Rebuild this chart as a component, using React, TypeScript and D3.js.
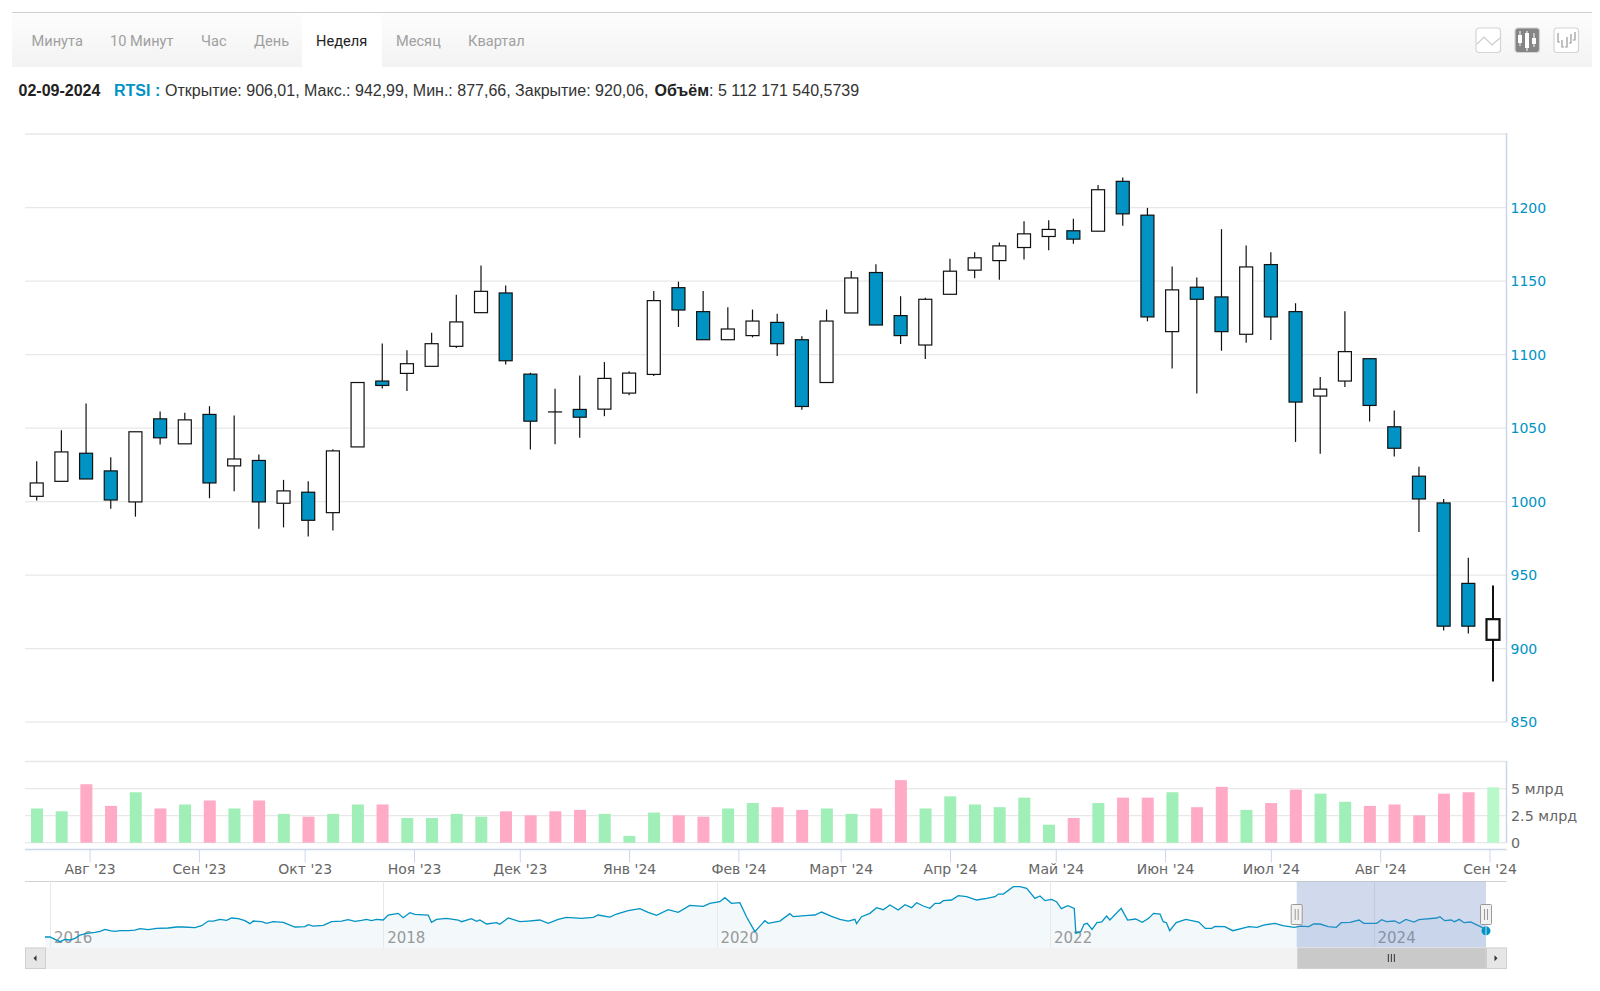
import { useEffect, useRef } from "react";
import * as d3 from "d3";

/* Weekly RTSI candles, 17 Jul 2023 .. 2 Sep 2024 */
const firstWeek = new Date(2023, 6, 17);

const opens = [1003.6, 1013.8, 1032.9, 1020.9, 999.8, 1056.3, 1039.3, 1059.3, 1024.3, 1028, 998.9, 1006.4, 992.5, 1037.2, 1082, 1087.2, 1092, 1105.6, 1128.5, 1141.9, 1086.7, 1061, 1062.7, 1062.9, 1073.8, 1086.5, 1145.5, 1129.2, 1110.1, 1112.9, 1121.9, 1110.1, 1081, 1128.3, 1155.8, 1126.5, 1106.5, 1141, 1157.4, 1163.9, 1172.8, 1180.3, 1184.2, 1183.9, 1217.8, 1194.8, 1115.6, 1145.8, 1139.2, 1113.8, 1161.2, 1129.2, 1071.8, 1082, 1097.2, 1050.9, 1017.3, 999.1, 944.4, 906.01];
const closes = [1012.7, 1033.8, 1015.4, 1001.1, 1047.5, 1043.4, 1055.6, 1012.7, 1029, 999.8, 1007.3, 987.3, 1034.5, 1081, 1079, 1093.8, 1107.4, 1122.2, 1143, 1095.8, 1054.7, 1061, 1057.4, 1083.8, 1087.4, 1136.7, 1130.3, 1110.1, 1117.4, 1122.8, 1107.4, 1064.7, 1122.8, 1152.1, 1120.1, 1112.9, 1137.6, 1156.7, 1165.8, 1173.9, 1182.1, 1185.1, 1178.5, 1212.1, 1195.7, 1125.6, 1144, 1137.6, 1115.6, 1159.6, 1125.6, 1067.7, 1076.5, 1102, 1065.4, 1036.3, 1001.8, 915.3, 915.3, 920.06];
const highs = [1027.4, 1048.6, 1066.8, 1030.2, 1047.5, 1061.3, 1060.4, 1064.9, 1058.6, 1032, 1014.8, 1013.8, 1035.6, 1081, 1107.6, 1103, 1114.9, 1140.6, 1160.5, 1146.9, 1087.6, 1076.7, 1085.8, 1094.9, 1088.6, 1143.3, 1149.6, 1143.3, 1132.2, 1130.6, 1127.8, 1112.4, 1130.6, 1156.9, 1161.4, 1139.6, 1138.7, 1165.1, 1169.6, 1176.2, 1190.7, 1191.4, 1192.3, 1215.3, 1220.5, 1199.8, 1159.9, 1152.4, 1185.3, 1174.2, 1169.6, 1134.9, 1084.7, 1129.4, 1097.2, 1062, 1023.8, 1001.8, 961.9, 942.99];
const lows = [1000.7, 1013.8, 1015.4, 995.2, 989.8, 1038.8, 1039.3, 1002.3, 1007, 981.6, 982.5, 976.2, 980.4, 1037.2, 1077, 1075.2, 1092, 1104.5, 1128.5, 1093.3, 1035.4, 1039, 1043.4, 1058.1, 1072.4, 1085.4, 1118.8, 1110.1, 1110.1, 1111.7, 1099, 1062.4, 1081, 1128.3, 1120.1, 1107.2, 1097, 1141, 1151.9, 1150.8, 1164.6, 1171, 1175.3, 1183.9, 1187.6, 1122.6, 1090.6, 1073.6, 1102.6, 1108.1, 1109.9, 1040.6, 1032.5, 1077.9, 1054.5, 1030.7, 979.3, 912.4, 910.3, 877.66];

// volume in billions, and whether the bar is a green one
const volumes = [3.16, 2.9, 5.4, 3.4, 4.66, 3.16, 3.53, 3.9, 3.16, 3.9, 2.66, 2.4, 2.66, 3.53, 3.53, 2.28, 2.28, 2.66, 2.4, 2.9, 2.53, 2.9, 3.03, 2.66, 0.63, 2.78, 2.53, 2.4, 3.16, 3.66, 3.28, 3.03, 3.16, 2.66, 3.16, 5.78, 3.16, 4.28, 3.53, 3.28, 4.16, 1.66, 2.28, 3.66, 4.16, 4.16, 4.66, 3.28, 5.16, 3.03, 3.66, 4.9, 4.53, 3.78, 3.4, 3.53, 2.53, 4.53, 4.66, 5.112];
const volumeUp = [1, 1, 0, 0, 1, 0, 1, 0, 1, 0, 1, 0, 1, 1, 0, 1, 1, 1, 1, 0, 0, 0, 0, 1, 1, 1, 0, 0, 1, 1, 0, 0, 1, 1, 0, 0, 1, 1, 1, 1, 1, 1, 0, 1, 0, 0, 1, 0, 0, 1, 0, 0, 1, 1, 0, 0, 0, 0, 0, 1];

const priceTicks = [850, 900, 950, 1000, 1050, 1100, 1150, 1200, 1250];
const priceLabels = [850, 900, 950, 1000, 1050, 1100, 1150, 1200];
const volumeTicks = [0, 2.5, 5, 7.5];
const volumeLabels = [[0, "0"], [2.5, "2.5 млрд"], [5, "5 млрд"]] as [number, string][];

const monthTicks = [new Date(2023, 7, 1), new Date(2023, 8, 1), new Date(2023, 9, 1), new Date(2023, 10, 1), new Date(2023, 11, 1), new Date(2024, 0, 1), new Date(2024, 1, 1), new Date(2024, 2, 1), new Date(2024, 3, 1), new Date(2024, 4, 1), new Date(2024, 5, 1), new Date(2024, 6, 1), new Date(2024, 7, 1), new Date(2024, 8, 1)];
const monthLabels = ["Авг '23", "Сен '23", "Окт '23", "Ноя '23", "Дек '23", "Янв '24", "Фев '24", "Март '24", "Апр '24", "Май '24", "Июн '24", "Июл '24", "Авг '24", "Сен '24"];

const tabs = ["Минута", "10 Минут", "Час", "День", "Неделя", "Месяц", "Квартал"];
const tabStarts = [31.5, 110, 201, 254, 316, 396, 468];

// navigator series, decimal year + index value
const navYears = [2015.97, 2016, 2016.03, 2016.06, 2016.09, 2016.12, 2016.15, 2016.18, 2016.22, 2016.27, 2016.3, 2016.33, 2016.36, 2016.39, 2016.42, 2016.47, 2016.51, 2016.54, 2016.59, 2016.64, 2016.71, 2016.76, 2016.8, 2016.87, 2016.91, 2016.95, 2016.98, 2017.02, 2017.06, 2017.09, 2017.13, 2017.17, 2017.2, 2017.22, 2017.27, 2017.3, 2017.34, 2017.4, 2017.47, 2017.53, 2017.55, 2017.58, 2017.64, 2017.69, 2017.75, 2017.79, 2017.83, 2017.87, 2017.9, 2017.93, 2017.96, 2018, 2018.03, 2018.09, 2018.12, 2018.16, 2018.19, 2018.27, 2018.29, 2018.32, 2018.38, 2018.45, 2018.47, 2018.53, 2018.56, 2018.58, 2018.62, 2018.68, 2018.7, 2018.75, 2018.82, 2018.87, 2018.94, 2018.99, 2019.05, 2019.1, 2019.19, 2019.26, 2019.29, 2019.36, 2019.4, 2019.47, 2019.54, 2019.59, 2019.64, 2019.71, 2019.77, 2019.84, 2019.92, 2019.96, 2020.02, 2020.05, 2020.09, 2020.14, 2020.18, 2020.23, 2020.29, 2020.31, 2020.38, 2020.44, 2020.46, 2020.55, 2020.59, 2020.63, 2020.69, 2020.74, 2020.79, 2020.83, 2020.84, 2020.87, 2020.92, 2020.96, 2021, 2021.04, 2021.09, 2021.13, 2021.17, 2021.2, 2021.24, 2021.28, 2021.31, 2021.34, 2021.36, 2021.41, 2021.45, 2021.5, 2021.56, 2021.62, 2021.67, 2021.69, 2021.72, 2021.78, 2021.82, 2021.86, 2021.91, 2021.94, 2021.97, 2022.01, 2022.04, 2022.07, 2022.11, 2022.15, 2022.16, 2022.19, 2022.21, 2022.23, 2022.26, 2022.29, 2022.32, 2022.35, 2022.37, 2022.44, 2022.48, 2022.53, 2022.57, 2022.61, 2022.64, 2022.68, 2022.7, 2022.72, 2022.74, 2022.78, 2022.84, 2022.92, 2022.96, 2023, 2023.02, 2023.08, 2023.13, 2023.23, 2023.28, 2023.32, 2023.39, 2023.44, 2023.51, 2023.55, 2023.6, 2023.63, 2023.67, 2023.72, 2023.77, 2023.8, 2023.855, 2023.91, 2023.94, 2024.02, 2024.05, 2024.08, 2024.13, 2024.16, 2024.2, 2024.25, 2024.28, 2024.39, 2024.41, 2024.44, 2024.48, 2024.5, 2024.53, 2024.56, 2024.6, 2024.67, 2024.695];
const navValues = [704, 704, 648, 593, 648, 633, 672, 751, 791, 815, 839, 886, 854, 839, 854, 854, 870, 902, 878, 910, 918, 942, 942, 926, 973, 1084, 1084, 1124, 1100, 1156, 1140, 1092, 1021, 1084, 1068, 1029, 1068, 1053, 942, 950, 997, 965, 981, 1068, 1084, 1116, 1076, 1100, 1124, 1092, 1124, 1108, 1227, 1267, 1164, 1282, 1243, 1227, 1053, 1124, 1148, 1108, 1068, 1140, 1076, 1108, 1013, 1045, 1005, 1156, 1068, 1084, 1108, 1029, 1124, 1171, 1148, 1171, 1227, 1179, 1251, 1330, 1378, 1290, 1219, 1354, 1290, 1457, 1433, 1504, 1544, 1639, 1504, 1520, 1187, 831, 1092, 1029, 1084, 1259, 1187, 1219, 1227, 1298, 1195, 1124, 1084, 1124, 1021, 1187, 1267, 1401, 1354, 1465, 1346, 1473, 1401, 1520, 1441, 1386, 1504, 1504, 1568, 1584, 1687, 1663, 1584, 1623, 1663, 1726, 1726, 1901, 1901, 1861, 1623, 1679, 1568, 1600, 1544, 1378, 1449, 1386, 791, 831, 1005, 1029, 886, 1045, 1061, 1203, 1108, 1386, 1108, 1132, 1053, 1148, 1267, 1251, 1068, 1045, 854, 1045, 1124, 1061, 910, 910, 957, 950, 854, 950, 934, 989, 1029, 973, 934, 965, 950, 1013, 1013, 950, 934, 1045, 1053, 1108, 1029, 1029, 1116, 1068, 1084, 1029, 1124, 1061, 1116, 1156, 1187, 1092, 1108, 1068, 1124, 1045, 1061, 934, 850];
const navLabelYears = [2016, 2018, 2020, 2022, 2024];

const width = 1600;
const height = 991;
const plotLeft = 25;
const plotRight = 1506.5;
const navTop = 881.5;
const navBottom = 947.5;
const scrollBottom = 969;

const blue = "#0093c4";
const axisBlue = "#ccd6eb";
const gridGrey = "#e8e8e8";
const axisFont = "'DejaVu Sans', sans-serif";

function App() {
    const svgRef = useRef<SVGSVGElement>(null);

    useEffect(() => {
        const svg = d3.select(svgRef.current);
        svg.selectAll("*").remove();

        const weeks = opens.map((_, i) => d3.timeDay.offset(firstWeek, i * 7));

        // scales
        const xScale = d3.scaleTime()
            .domain([weeks[0], weeks[weeks.length - 1]])
            .range([36.7, 1493]);
        const yPrice = d3.scaleLinear().domain([850, 1250]).range([722.2, 134]);
        const yVolume = d3.scaleLinear().domain([0, 7.5]).range([842.7, 761.5]);
        const xNav = d3.scaleLinear()
            .domain([2016, 2018, 2020, 2022, 2024, 2024.695])
            .range([50, 383.2, 716.5, 1050, 1373.5, 1486]);
        const yNav = d3.scaleLinear().domain([450, 2019]).range([947.7, 881.7]);

        // toolbar
        const defs = svg.append("defs");
        const grad = defs.append("linearGradient")
            .attr("id", "toolbar")
            .attr("x1", 0).attr("x2", 0).attr("y1", 0).attr("y2", 1);
        grad.append("stop").attr("offset", "0%").attr("stop-color", "#fdfdfd");
        grad.append("stop").attr("offset", "100%").attr("stop-color", "#f3f3f3");

        svg.append("rect")
            .attr("x", 12).attr("y", 13)
            .attr("width", 1580).attr("height", 54)
            .attr("fill", "url(#toolbar)");
        svg.append("line")
            .attr("x1", 12).attr("x2", 1592)
            .attr("y1", 12.5).attr("y2", 12.5)
            .attr("stroke", "#cfcfcf");
        svg.append("rect")
            .attr("x", 302).attr("y", 13)
            .attr("width", 80).attr("height", 54)
            .attr("fill", "#fff");

        svg.append("g").selectAll("text")
            .data(tabs)
            .join("text")
            .attr("x", (_, i) => tabStarts[i])
            .attr("y", 46)
            .attr("font-family", "Roboto, sans-serif")
            .attr("font-size", 14.6)
            .attr("fill", d => d === "Неделя" ? "#222" : "#a0a0a0")
            .text(d => d);

        // chart type buttons
        [1476, 1515, 1554].forEach((bx, i) => {
            const g = svg.append("g").attr("transform", `translate(${bx},28)`);
            g.append("rect")
                .attr("width", 24.5).attr("height", 24.5).attr("rx", 3)
                .attr("fill", i === 1 ? "#858585" : "#fff")
                .attr("stroke", "#d4d4d4").attr("stroke-width", 1.2);
            if (i === 0) {
                g.append("path").attr("d", "M1,16L8,9L16,17L24,10")
                    .attr("fill", "none").attr("stroke", "#ccc").attr("stroke-width", 1.2);
            } else if (i === 1) {
                [[5, 7, 15, 3, 18], [12, 5, 20, 3, 23], [19, 10, 16, 5, 19]].forEach(([cx, top, bot, hi, lo]) => {
                    g.append("line").attr("x1", cx).attr("x2", cx).attr("y1", hi).attr("y2", lo)
                        .attr("stroke", "#fff");
                    g.append("rect").attr("x", cx - 2).attr("y", top)
                        .attr("width", 4).attr("height", bot - top).attr("fill", "#fff");
                });
            } else {
                g.append("path")
                    .attr("d", "M4,5V14H6M8,12V19H10M13,9V19H11M17,6V15H15M21,4V12H19")
                    .attr("fill", "none").attr("stroke", "#999").attr("stroke-width", 1.2);
            }
        });

        // info line
        const info = svg.append("text")
            .attr("y", 96)
            .attr("font-family", "'Liberation Sans', Arial, sans-serif")
            .attr("font-size", 16)
            .attr("fill", "#333");
        info.append("tspan").attr("x", 18.5).attr("font-weight", "bold").attr("fill", "#222").text("02-09-2024");
        info.append("tspan").attr("x", 114).attr("font-weight", "bold").attr("fill", blue).text("RTSI :");
        info.append("tspan").attr("x", 165).text("Открытие: 906,01, Макс.: 942,99, Мин.: 877,66, Закрытие: 920,06, ");
        info.append("tspan").attr("x", 654.5).attr("font-weight", "bold").attr("fill", "#222").text("Объём");
        info.append("tspan").text(": 5 112 171 540,5739");

        // price grid
        svg.append("g").selectAll("line")
            .data(priceTicks)
            .join("line")
            .attr("x1", plotLeft).attr("x2", plotRight)
            .attr("y1", d => yPrice(d))
            .attr("y2", d => yPrice(d))
            .attr("stroke", gridGrey)
            .attr("stroke-width", 1.3);

        // price axis labels, on the right
        const priceAxis = d3.axisRight(yPrice)
            .tickValues(priceLabels)
            .tickSize(0)
            .tickPadding(4)
            .tickFormat(d => String(d));
        svg.append("g")
            .attr("transform", `translate(${plotRight},0)`)
            .call(priceAxis)
            .call(g => g.select(".domain").remove())
            .selectAll("text")
            .attr("font-family", axisFont)
            .attr("font-size", 14)
            .attr("fill", blue);

        // wicks and bodies
        const candles = svg.append("g")
            .selectAll("g")
            .data(opens.map((o, i) => ({ o, c: closes[i], h: highs[i], l: lows[i], date: weeks[i], last: i === opens.length - 1 })))
            .join("g");
        candles.append("line")
            .attr("x1", d => xScale(d.date))
            .attr("x2", d => xScale(d.date))
            .attr("y1", d => yPrice(d.h))
            .attr("y2", d => yPrice(d.l))
            .attr("stroke", "#111")
            .attr("stroke-width", d => d.last ? 2 : 1.2);
        candles.append("rect")
            .attr("x", d => xScale(d.date) - 6.5)
            .attr("width", 13)
            .attr("y", d => yPrice(Math.max(d.o, d.c)))
            .attr("height", d => Math.max(Math.abs(yPrice(d.o) - yPrice(d.c)), 0.01)) // doji still draws its bar
            .attr("fill", d => d.c >= d.o ? "#fff" : blue)
            .attr("stroke", "#111")
            .attr("stroke-width", d => d.last ? 2.2 : 1.2);

        // volume pane
        svg.append("g").selectAll("line")
            .data(volumeTicks)
            .join("line")
            .attr("x1", plotLeft).attr("x2", plotRight)
            .attr("y1", d => yVolume(d))
            .attr("y2", d => yVolume(d))
            .attr("stroke", gridGrey)
            .attr("stroke-width", 1.3);
        svg.append("g").selectAll("rect")
            .data(volumes)
            .join("rect")
            .attr("x", (_, i) => xScale(weeks[i]) - 5.7)
            .attr("width", 12)
            .attr("y", d => yVolume(d))
            .attr("height", d => yVolume(0) - yVolume(d))
            .attr("fill", (_, i) => i === volumes.length - 1 ? "#b9f8cb" : volumeUp[i] ? "#a0eeb8" : "#ffabc6");
        svg.append("g").selectAll("text")
            .data(volumeLabels)
            .join("text")
            .attr("x", plotRight + 4.5)
            .attr("y", d => yVolume(d[0]) + 5)
            .attr("font-family", axisFont)
            .attr("font-size", 14.3)
            .attr("fill", "#666")
            .text(d => d[1]);

        // right axis line
        svg.append("line")
            .attr("x1", plotRight).attr("x2", plotRight)
            .attr("y1", 133).attr("y2", 722)
            .attr("stroke", axisBlue).attr("stroke-width", 1.5);
        svg.append("line")
            .attr("x1", plotRight).attr("x2", plotRight)
            .attr("y1", 761).attr("y2", 843)
            .attr("stroke", axisBlue).attr("stroke-width", 1.5);

        // month axis
        const monthAxis = d3.axisBottom(xScale)
            .tickValues(monthTicks)
            .tickSize(13)
            .tickSizeOuter(0)
            .tickPadding(2)
            .tickFormat((_, i) => monthLabels[i]);
        const axisG = svg.append("g")
            .attr("transform", "translate(0,849.5)")
            .call(monthAxis);
        axisG.select(".domain").remove();
        axisG.selectAll("line").attr("stroke", axisBlue);
        axisG.selectAll("text")
            .attr("font-family", axisFont)
            .attr("font-size", 14)
            .attr("fill", "#666");
        svg.append("line")
            .attr("x1", plotLeft).attr("x2", plotRight)
            .attr("y1", 849.5).attr("y2", 849.5)
            .attr("stroke", axisBlue).attr("stroke-width", 1.5);

        // navigator
        svg.append("line")
            .attr("x1", plotLeft).attr("x2", plotRight)
            .attr("y1", navTop).attr("y2", navTop)
            .attr("stroke", "#d2d2d2");
        const navData = navYears.map((y, i) => [y, navValues[i]]);
        const navArea = d3.area<number[]>()
            .x(d => xNav(d[0]))
            .y0(navBottom)
            .y1(d => yNav(d[1]));
        const navLine = d3.line<number[]>()
            .x(d => xNav(d[0]))
            .y(d => yNav(d[1]));
        svg.append("path").attr("d", navArea(navData)).attr("fill", "#f3f8fb");
        svg.append("g").selectAll("line")
            .data(navLabelYears)
            .join("line")
            .attr("x1", d => Math.round(xNav(d)) + 0.5)
            .attr("x2", d => Math.round(xNav(d)) + 0.5)
            .attr("y1", navTop).attr("y2", navBottom)
            .attr("stroke", gridGrey);
        svg.append("g").selectAll("text")
            .data(navLabelYears)
            .join("text")
            .attr("x", d => xNav(d) + 4)
            .attr("y", 943)
            .attr("font-family", axisFont)
            .attr("font-size", 15)
            .attr("fill", "#999")
            .text(d => d);
        svg.append("path")
            .attr("d", navLine(navData))
            .attr("fill", "none")
            .attr("stroke", blue)
            .attr("stroke-width", 1.3);

        // selected range
        const rangeStart = xScale(weeks[0]) + 1260;
        const rangeEnd = xNav(2024.695);
        svg.append("rect")
            .attr("x", rangeStart).attr("y", navTop)
            .attr("width", rangeEnd - rangeStart).attr("height", navBottom - navTop)
            .attr("fill", "rgb(102,133,194)").attr("fill-opacity", 0.3);

        // scrollbar
        svg.append("rect")
            .attr("x", plotLeft).attr("y", navBottom)
            .attr("width", plotRight - plotLeft).attr("height", scrollBottom - navBottom)
            .attr("fill", "#f2f2f2");
        svg.append("rect")
            .attr("x", rangeStart + 1).attr("y", navBottom + 0.5)
            .attr("width", rangeEnd - rangeStart - 1).attr("height", scrollBottom - navBottom - 1)
            .attr("fill", "#c9c9c9").attr("stroke", "#d0d0d0");
        [plotLeft, rangeEnd].forEach((bx, i) => {
            const bw = i === 0 ? 20 : plotRight - rangeEnd - 0.5;
            svg.append("rect")
                .attr("x", bx + 0.5).attr("y", navBottom + 0.5)
                .attr("width", bw).attr("height", scrollBottom - navBottom - 1)
                .attr("fill", "#e6e6e6").attr("stroke", "#cfcfcf");
            const cx = bx + bw / 2;
            const cy = (navBottom + scrollBottom) / 2;
            svg.append("path")
                .attr("d", i === 0
                    ? `M${cx + 1.5},${cy - 3}L${cx - 1.5},${cy}L${cx + 1.5},${cy + 3}Z`
                    : `M${cx - 1.5},${cy - 3}L${cx + 1.5},${cy}L${cx - 1.5},${cy + 3}Z`)
                .attr("fill", "#333");
        });
        const gripX = (rangeStart + rangeEnd) / 2;
        [-3, 0, 3].forEach(dx => {
            svg.append("line")
                .attr("x1", gripX + dx).attr("x2", gripX + dx)
                .attr("y1", 954).attr("y2", 962)
                .attr("stroke", "#333");
        });

        // range handles
        [rangeStart, rangeEnd].forEach(hx => {
            svg.append("rect")
                .attr("x", hx - 5.5).attr("y", 904.5)
                .attr("width", 11).attr("height", 20).attr("rx", 1)
                .attr("fill", "#f2f2f2").attr("stroke", "#999");
            [-1.5, 1.5].forEach(dx => {
                svg.append("line")
                    .attr("x1", hx + dx).attr("x2", hx + dx)
                    .attr("y1", 909).attr("y2", 920)
                    .attr("stroke", "#999");
            });
        });

        // last point marker
        svg.append("circle")
            .attr("cx", rangeEnd).attr("cy", yNav(navValues[navValues.length - 1]))
            .attr("r", 4.5)
            .attr("fill", blue);
        svg.append("line")
            .attr("x1", rangeEnd).attr("x2", rangeEnd)
            .attr("y1", yNav(navValues[navValues.length - 1]) - 5)
            .attr("y2", yNav(navValues[navValues.length - 1]) + 5)
            .attr("stroke", "#cfe0ee");
    }, []);

    return (
        <svg
            ref={svgRef}
            width={width}
            height={height}
            style={{ position: "absolute", left: 0, top: 0, display: "block", background: "#fff" }}
        />
    );
}

export default App;
